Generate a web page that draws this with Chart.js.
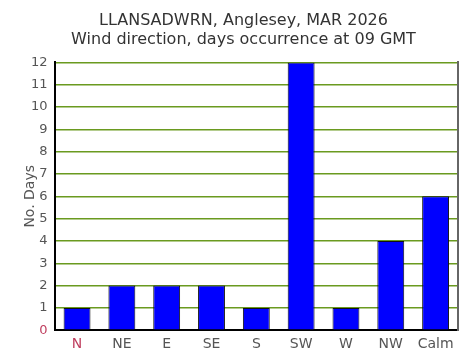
<!DOCTYPE html>
<html><head><meta charset="utf-8">
<script src="https://cdn.jsdelivr.net/npm/chart.js@4/dist/chart.umd.min.js"></script>
<style>html,body{margin:0;padding:0;background:#fff}#wrap{width:469px;height:360px}</style>
</head><body><div id="wrap"><canvas id="c" width="469" height="360"></canvas></div>
<script>
const titleLines = ["LLANSADWRN, Anglesey, MAR 2026", "Wind direction, days occurrence at 09 GMT"];
const categories = ["N", "NE", "E", "SE", "S", "SW", "W", "NW", "Calm"];
const days = [1, 2, 2, 2, 1, 12, 1, 4, 6];
const yTicks = [0,1,2,3,4,5,6,7,8,9,10,11,12];
const yTitle = "No. Days";

const FONT = "'DejaVu Sans', Verdana, sans-serif";
new Chart(document.getElementById('c'), {
  type: 'bar',
  data: { labels: categories, datasets: [{ data: days, backgroundColor: '#0000ff', borderColor: '#111', borderWidth: 1, barPercentage: 0.6, categoryPercentage: 1.0 }] },
  options: {
    responsive: false, animation: false,
    layout: { padding: { left: 29, right: 11, top: 0, bottom: 1 } },
    plugins: {
      legend: { display: false }, tooltip: { enabled: false },
      title: { display: true, text: titleLines, color: '#333', font: { family: FONT, size: 16, weight: 'normal', lineHeight: 1.2 }, padding: { top: 11, bottom: 13 } }
    },
    scales: {
      x: {
        grid: { display: false, drawTicks: false },
        border: { display: true, color: '#000', width: 2 },
        ticks: { padding: 6, color: (c) => c.index === 0 ? '#c04060' : '#555', font: { family: FONT, size: 14 } }
      },
      y: {
        min: 0, max: 12,
        afterBuildTicks: (a) => { a.ticks = yTicks.map(v => ({ value: v })); },
        grid: { color: '#6a9a1f', lineWidth: 1.5, drawTicks: false },
        border: { display: true, color: '#000', width: 2 },
        title: { display: true, text: yTitle, color: '#555', font: { family: FONT, size: 14, lineHeight: 0.15 }, padding: { top: 0, bottom: -7 } },
        ticks: { padding: 7, color: (c) => c.tick.value === 0 ? '#c04060' : '#555', font: { family: FONT, size: 13 } }
      },
      y2: {
        position: 'right', min: 0, max: 12,
        grid: { display: false, drawTicks: false },
        ticks: { display: false },
        border: { display: true, color: '#666', width: 2 }
      }
    }
  }
});
</script></body></html>
